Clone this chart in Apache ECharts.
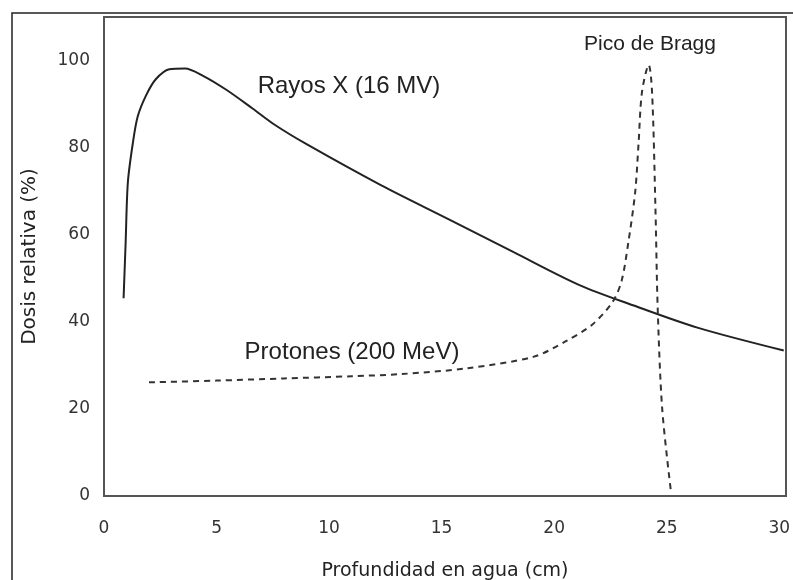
<!DOCTYPE html>
<html>
<head>
<meta charset="utf-8">
<script src="https://cdn.jsdelivr.net/npm/echarts@6/dist/echarts.min.js"></script>
<style>
  html, body { margin: 0; padding: 0; background: #fff; }
  #chart { width: 793px; height: 580px; }
</style>
</head>
<body>
<div id="chart"></div>
<script>
// Rayos X (16 MV): [profundidad cm, dosis %]
var rayosX = [
  [0.87, 45.4], [0.96, 58], [1.06, 72], [1.28, 81], [1.5, 87.2], [1.87, 92],
  [2.3, 95.7], [2.9, 98], [3.6, 98.2], [4.4, 96.5], [5.4, 93.4], [6.6, 89],
  [7.6, 85.2], [9.0, 80.8], [12.3, 71.4], [15.3, 63.6],
  [18.2, 56], [21.1, 48.5], [23.5, 43.8], [26.4, 38.6], [30.2, 33.4]
];
// Protones (200 MeV)
var protones = [
  [2.0, 26.1], [5, 26.5], [8, 27], [11, 27.5], [13.2, 28], [16.1, 29.3],
  [19.1, 32], [20.5, 35.5], [21.7, 39.4], [22.6, 44.6], [23.0, 49.5],
  [23.3, 58.4], [23.6, 69.8], [23.75, 81], [23.9, 92.7], [24.2, 99],
  [24.35, 92.7], [24.5, 66], [24.6, 43], [24.8, 20], [25.2, 0.5]
];
var xTicks = [0, 5, 10, 15, 20, 25, 30];
var yTicks = [0, 20, 40, 60, 80, 100];

var myChart = echarts.init(document.getElementById('chart'));

var option = {
  backgroundColor: '#fff',
  animation: false,
  grid: {
    left: 104,
    right: 7,
    top: 17,
    bottom: 84,
    outerBoundsMode: 'none',
    containLabel: false,
    show: true,
    borderColor: '#555',
    borderWidth: 2
  },
  xAxis: {
    type: 'value',
    min: 0,
    max: 30.3,
    interval: 5,
    name: 'Profundidad en agua (cm)',
    nameLocation: 'middle',
    nameGap: 66,
    nameTextStyle: { fontFamily: 'DejaVu Sans', fontSize: 19, color: '#222' },
    axisLine: { show: false },
    axisTick: { show: false },
    splitLine: { show: false },
    axisLabel: {
      margin: 24,
      fontFamily: 'DejaVu Sans',
      fontSize: 17,
      color: '#333',
      formatter: function (v) { return xTicks.indexOf(v) >= 0 ? String(v) : ''; }
    }
  },
  yAxis: {
    type: 'value',
    min: 0,
    max: 110,
    interval: 20,
    name: 'Dosis relativa (%)',
    nameLocation: 'middle',
    nameGap: 64,
    nameRotate: 90,
    nameTextStyle: { fontFamily: 'DejaVu Sans', fontSize: 20, color: '#222' },
    axisLine: { show: false },
    axisTick: { show: false },
    splitLine: { show: false },
    axisLabel: {
      margin: 14,
      fontFamily: 'DejaVu Sans',
      fontSize: 17,
      color: '#333',
      formatter: function (v) { return yTicks.indexOf(v) >= 0 ? String(v) : ''; }
    }
  },
  series: [
    {
      name: 'Rayos X (16 MV)',
      type: 'line',
      data: rayosX,
      smooth: 0.3,
      showSymbol: false,
      lineStyle: { color: '#222', width: 2 }
    },
    {
      name: 'Protones (200 MeV)',
      type: 'line',
      data: protones,
      smooth: 0.3,
      showSymbol: false,
      lineStyle: { color: '#333', width: 2, type: [6, 5] }
    }
  ],
  graphic: [
    {
      type: 'rect',
      shape: { x: 12, y: 13, width: 800, height: 600 },
      style: { fill: 'none', stroke: '#222', lineWidth: 1.5 },
      silent: true
    },
    {
      type: 'text',
      x: 349, y: 86,
      style: {
        text: 'Rayos X (16 MV)', fontFamily: 'Liberation Sans', fontSize: 24,
        fill: '#222', align: 'center', verticalAlign: 'middle'
      }
    },
    {
      type: 'text',
      x: 352, y: 352,
      style: {
        text: 'Protones (200 MeV)', fontFamily: 'Liberation Sans', fontSize: 24,
        fill: '#222', align: 'center', verticalAlign: 'middle'
      }
    },
    {
      type: 'text',
      x: 650, y: 44,
      style: {
        text: 'Pico de Bragg', fontFamily: 'Liberation Sans', fontSize: 21,
        fill: '#222', align: 'center', verticalAlign: 'middle'
      }
    }
  ]
};

myChart.setOption(option, true);
</script>
</body>
</html>
